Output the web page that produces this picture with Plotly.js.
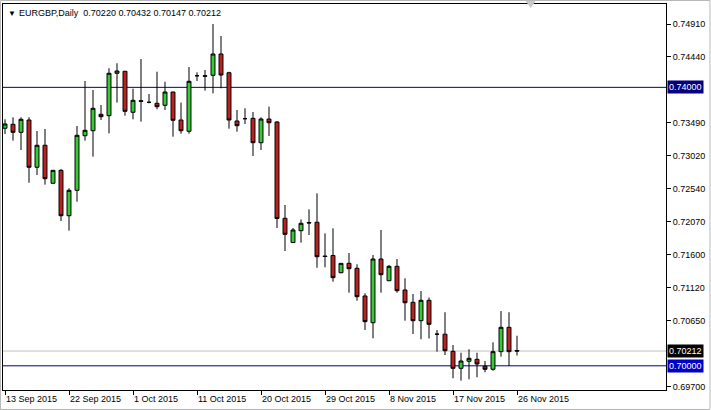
<!DOCTYPE html>
<html>
<head>
<meta charset="utf-8">
<script src="https://cdn.plot.ly/plotly-3.0.1.min.js"></script>
<style>html,body{margin:0;padding:0;background:#fff;}#chart{width:711px;height:410px;}</style>
</head>
<body>
<div id="chart"></div>
<script>
const symbolName = "EURGBP,Daily";
const dates = ["2015-09-13","2015-09-14","2015-09-15","2015-09-16","2015-09-17","2015-09-18","2015-09-20","2015-09-21","2015-09-22","2015-09-23","2015-09-24","2015-09-25","2015-09-27","2015-09-28","2015-09-29","2015-09-30",
"2015-10-01","2015-10-02","2015-10-04","2015-10-05","2015-10-06","2015-10-07","2015-10-08","2015-10-09","2015-10-11","2015-10-12","2015-10-13","2015-10-14","2015-10-15","2015-10-16","2015-10-18","2015-10-19","2015-10-20","2015-10-21","2015-10-22","2015-10-23","2015-10-25","2015-10-26","2015-10-27","2015-10-28","2015-10-29","2015-10-30",
"2015-11-01","2015-11-02","2015-11-03","2015-11-04","2015-11-05","2015-11-06","2015-11-08","2015-11-09","2015-11-10","2015-11-11","2015-11-12","2015-11-13","2015-11-15","2015-11-16","2015-11-17","2015-11-18","2015-11-19","2015-11-20","2015-11-22","2015-11-23","2015-11-24","2015-11-25","2015-11-26"];
const openP = [0.73412,0.73469,0.73354,0.73531,0.72852,0.73168,0.72622,0.72808,0.72156,0.72521,0.73305,0.73377,0.73613,0.73593,0.74202,0.74231,0.73642,0.73808,0.73785,0.73771,0.73742,0.73933,0.73531,0.73369,0.74167,0.74167,0.74173,0.74479,0.74210,0.73517,0.73550,0.73555,0.73205,0.73545,0.73502,0.72119,0.71771,0.71941,0.72059,0.72062,0.71577,0.71585,0.71337,0.71472,0.71401,0.71003,0.70619,0.71534,0.71222,0.71429,0.71089,0.70912,0.70648,0.70941,0.70454,0.70454,0.70208,0.69964,0.70065,0.70093,0.69993,0.69950,0.70203,0.70553,0.70220];
const highP = [0.73541,0.73570,0.73570,0.73570,0.73373,0.73402,0.72810,0.72827,0.72550,0.73445,0.74091,0.73962,0.73746,0.74274,0.74346,0.74235,0.73981,0.74407,0.73904,0.74225,0.74081,0.73935,0.73780,0.74292,0.74216,0.74249,0.74910,0.74738,0.74225,0.73675,0.73699,0.73646,0.73570,0.73722,0.73517,0.72310,0.71980,0.72102,0.72248,0.72478,0.71903,0.71975,0.71475,0.71620,0.71458,0.71042,0.71592,0.71951,0.71448,0.71534,0.71257,0.71031,0.71075,0.70981,0.70514,0.70769,0.70299,0.70188,0.70237,0.70188,0.70069,0.70338,0.70787,0.70769,0.70432];
const lowP = [0.73330,0.73234,0.73100,0.72630,0.72741,0.72602,0.72620,0.72080,0.71941,0.72357,0.73234,0.73004,0.73531,0.73340,0.73780,0.73593,0.73541,0.73507,0.73771,0.73685,0.73675,0.73291,0.73334,0.73334,0.74091,0.73952,0.73915,0.73986,0.73406,0.73363,0.73474,0.73014,0.73100,0.73301,0.71980,0.71649,0.71770,0.71768,0.71879,0.71409,0.71415,0.71208,0.71330,0.71050,0.70935,0.70514,0.70395,0.71050,0.71220,0.71050,0.70648,0.70457,0.70381,0.70392,0.70203,0.70155,0.69821,0.69786,0.69806,0.69835,0.69907,0.69930,0.70131,0.69997,0.70147];
const closeP = [0.73474,0.73354,0.73541,0.72852,0.73168,0.72688,0.72808,0.72156,0.72521,0.73311,0.73383,0.73699,0.73578,0.74202,0.74235,0.73656,0.73814,0.73800,0.73785,0.73722,0.73933,0.73527,0.73377,0.74087,0.74167,0.74160,0.74479,0.74177,0.73531,0.73449,0.73550,0.73205,0.73545,0.73492,0.72116,0.71889,0.71951,0.72047,0.72052,0.71567,0.71570,0.71266,0.71472,0.71395,0.70993,0.70634,0.71534,0.71309,0.71429,0.71079,0.70906,0.70648,0.70941,0.70596,0.70454,0.70217,0.69964,0.70069,0.70108,0.70026,0.69950,0.70203,0.70553,0.70203,0.70212];

const xTickDates = ["2015-09-13","2015-09-22","2015-10-01","2015-10-11","2015-10-20","2015-10-29","2015-11-08","2015-11-17","2015-11-26"];
const xTickLabels = ["13 Sep 2015","22 Sep 2015","1 Oct 2015","11 Oct 2015","20 Oct 2015","29 Oct 2015","8 Nov 2015","17 Nov 2015","26 Nov 2015"];
const yTickValues = [0.74910,0.74440,0.73490,0.73020,0.72540,0.72070,0.71600,0.71120,0.70650,0.69700];
const yTickLabels = ["0.74910","0.74440","0.73490","0.73020","0.72540","0.72070","0.71600","0.71120","0.70650","0.69700"];
const levelValues = [0.74000, 0.70000];
const bidValue = 0.70212;

const FONT = "Liberation Sans, Arial, sans-serif";
const last = dates.length - 1;
const headerText = symbolName + "  " + [openP[last], highP[last], lowP[last], closeP[last]].map(v => v.toFixed(5)).join(" ");

const trace = {
  type: 'candlestick',
  x: dates, open: openP, high: highP, low: lowP, close: closeP,
  increasing: {line: {color: '#000000', width: 1}, fillcolor: '#33cc33'},
  decreasing: {line: {color: '#000000', width: 1}, fillcolor: '#c0201e'},
  whiskerwidth: 0,
  hoverinfo: 'skip',
  showlegend: false
};

const shapes = [];
levelValues.forEach(v => shapes.push({type:'line', xref:'paper', x0:0, x1:1, yref:'y', y0:v, y1:v, line:{color:'#000080', width:1}, layer:'below'}));
shapes.push({type:'line', xref:'paper', x0:0, x1:1, yref:'y', y0:bidValue, y1:bidValue, line:{color:'#c0c0c0', width:1}, layer:'below'});
shapes.push({type:'path', xref:'paper', yref:'paper', path:'M 0.7883 1.0078 L 0.8033 1.0078 L 0.7958 0.9896 Z', fillcolor:'#c8c8c8', line:{width:0}});
shapes.push({type:'rect', xref:'paper', yref:'paper', x0:-0.0038, x1:1.0663, y0:-0.0505, y1:1.0091, line:{color:'#b8b8b8', width:1}, fillcolor:'rgba(0,0,0,0)'});

const annotations = [
  {xref:'paper', yref:'paper', x:0.005, y:1.0, yshift:-9, xanchor:'left', yanchor:'middle', text:'\u25BC', showarrow:false, font:{family:FONT, size:8, color:'#000'}},
  {xref:'paper', yref:'paper', x:0.021, y:1.0, yshift:-9, xanchor:'left', yanchor:'middle', text:headerText, showarrow:false, font:{family:FONT, size:9, color:'#000'}},
  {xref:'paper', yref:'y', x:1, y:levelValues[0], xanchor:'left', yanchor:'middle', xshift:1, text:levelValues[0].toFixed(5), showarrow:false, bgcolor:'#000080', borderpad:1, font:{family:FONT, size:9, color:'#fff'}},
  {xref:'paper', yref:'y', x:1, y:bidValue, xanchor:'left', yanchor:'middle', xshift:1, text:bidValue.toFixed(5), showarrow:false, bgcolor:'#000000', borderpad:1, font:{family:FONT, size:9, color:'#fff'}},
  {xref:'paper', yref:'y', x:1, y:levelValues[1], xanchor:'left', yanchor:'middle', xshift:1, text:levelValues[1].toFixed(5), showarrow:false, bgcolor:'#0000c8', borderpad:1, font:{family:FONT, size:9, color:'#fff'}}
];

const layout = {
  width: 711, height: 410,
  margin: {l: 3, r: 45, t: 4, b: 20, pad: 0},
  paper_bgcolor: '#ffffff', plot_bgcolor: '#ffffff',
  boxgap: 0.3,
  font: {family: FONT, size: 9, color: '#000'},
  xaxis: {
    type: 'category', range: [-0.25, 82.625], rangeslider: {visible: false},
    showgrid: false, zeroline: false, showline: true, linecolor: '#000', linewidth: 1, mirror: true,
    tickmode: 'array', tickvals: xTickDates, ticktext: xTickLabels,
    ticks: 'outside', ticklen: 4, tickcolor: '#000', ticklabelposition: 'outside right',
    tickfont: {family: FONT, size: 9, color: '#000'}
  },
  yaxis: {
    side: 'right', range: [0.696524, 0.751973],
    showgrid: false, zeroline: false, showline: true, linecolor: '#000', linewidth: 1, mirror: true,
    tickmode: 'array', tickvals: yTickValues, ticktext: yTickLabels,
    ticks: 'outside', ticklen: 4, tickcolor: '#000',
    tickfont: {family: FONT, size: 9, color: '#000'}
  },
  shapes: shapes,
  annotations: annotations,
  hovermode: false
};

Plotly.newPlot('chart', [trace], layout, {displayModeBar: false, staticPlot: true});
</script>
</body>
</html>
